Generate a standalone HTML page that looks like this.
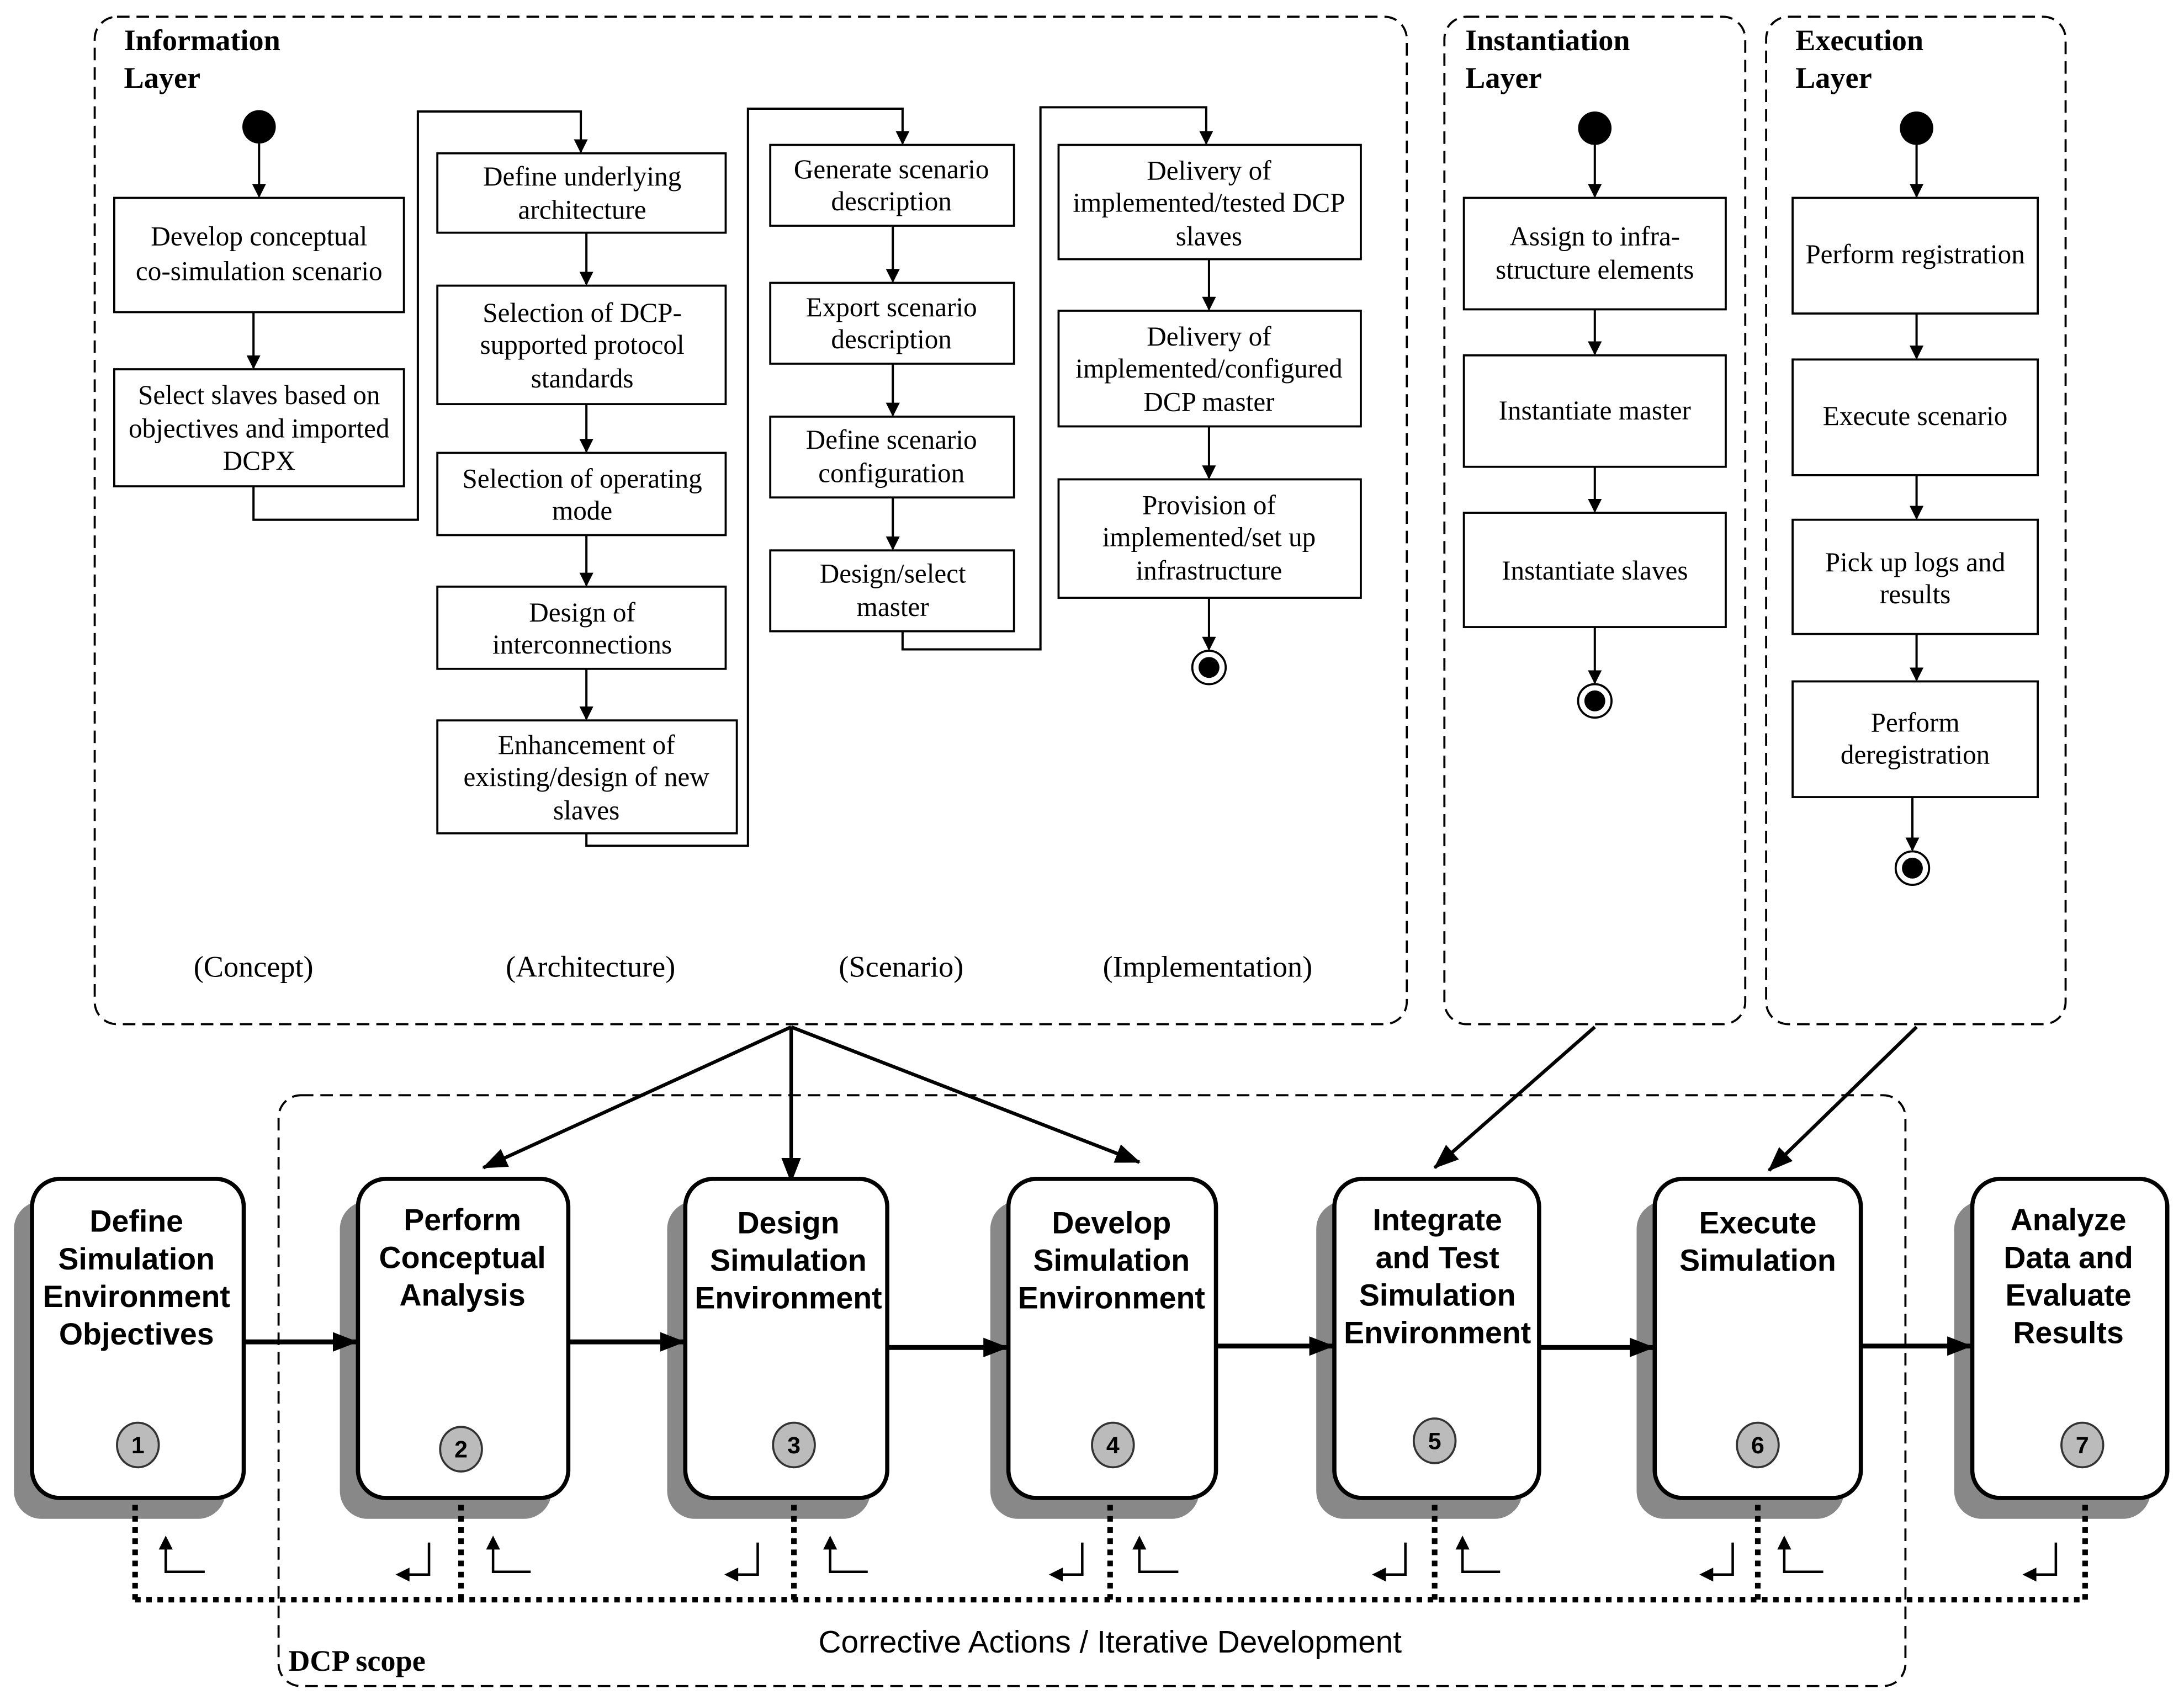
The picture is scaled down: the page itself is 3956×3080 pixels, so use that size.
<!DOCTYPE html>
<html><head><meta charset="utf-8"><style>html,body{margin:0;padding:0;background:#fff}svg{display:block}</style></head><body>
<svg width="3956" height="3080" viewBox="0 0 1568 1220" preserveAspectRatio="none" xmlns="http://www.w3.org/2000/svg">
<defs>
<marker id="a" markerWidth="10" markerHeight="10" refX="9" refY="5" orient="auto" markerUnits="userSpaceOnUse"><path d="M0,0 L10,5 L0,10 z" fill="#000"/></marker>
<marker id="b" markerWidth="18" markerHeight="14" refX="17" refY="7" orient="auto" markerUnits="userSpaceOnUse"><path d="M0,0 L18,7 L0,14 z" fill="#000"/></marker>
</defs>
<g font-family="Liberation Serif, serif" font-size="19.5" fill="#000">
<g fill="none" stroke="#000" stroke-width="1.5" stroke-dasharray="9,5">
<rect x="68" y="12" width="942" height="723" rx="16"/>
<rect x="1037" y="12" width="216" height="723" rx="16"/>
<rect x="1268" y="12" width="215" height="723" rx="16"/>
<rect x="200" y="786" width="1168" height="424" rx="16"/>
</g>
<g font-weight="bold" font-size="21.5">
<text x="89" y="36">Information</text><text x="89" y="63">Layer</text>
<text x="1052" y="36">Instantiation</text><text x="1052" y="63">Layer</text>
<text x="1289" y="36">Execution</text><text x="1289" y="63">Layer</text>
<text x="207" y="1199" font-size="21.5">DCP scope</text>
</g>
<circle cx="186" cy="91" r="12"/><circle cx="1145" cy="92" r="12"/><circle cx="1376" cy="92" r="12"/>
<g fill="none" stroke="#000" stroke-width="1.5"><circle cx="868" cy="479" r="12"/><circle cx="1145" cy="503" r="12"/><circle cx="1373" cy="623" r="12"/></g>
<circle cx="868" cy="479" r="7.5"/><circle cx="1145" cy="503" r="7.5"/><circle cx="1373" cy="623" r="7.5"/>
<g fill="#fff" stroke="#000" stroke-width="1.5">
<rect x="82" y="142" width="208" height="82"/><rect x="82" y="265" width="208" height="84"/>
<rect x="314" y="110" width="207" height="57"/><rect x="314" y="205" width="207" height="85"/><rect x="314" y="325" width="207" height="59"/><rect x="314" y="421" width="207" height="59"/><rect x="314" y="517" width="215" height="81"/>
<rect x="553" y="104" width="175" height="58"/><rect x="553" y="203" width="175" height="58"/><rect x="553" y="299" width="175" height="58"/><rect x="553" y="395" width="175" height="58"/>
<rect x="760" y="104" width="217" height="82"/><rect x="760" y="223" width="217" height="83"/><rect x="760" y="344" width="217" height="85"/>
<rect x="1051" y="142" width="188" height="80"/><rect x="1051" y="255" width="188" height="80"/><rect x="1051" y="368" width="188" height="82"/>
<rect x="1287" y="142" width="176" height="83"/><rect x="1287" y="258" width="176" height="83"/><rect x="1287" y="373" width="176" height="82"/><rect x="1287" y="489" width="176" height="83"/>
</g>
<g fill="none" stroke="#000" stroke-width="1.6" marker-end="url(#a)">
<path d="M186 103 V141"/><path d="M182 224 V264"/>
<path d="M182 349 V373 H300 V80 H417 V109"/>
<path d="M421 167 V204"/><path d="M421 290 V324"/><path d="M421 384 V420"/><path d="M421 480 V516"/>
<path d="M421 598 V607 H537 V78 H648 V103"/>
<path d="M641 162 V202"/><path d="M641 261 V298"/><path d="M641 357 V394"/>
<path d="M648 453 V466 H747 V77 H866 V103"/>
<path d="M868 186 V222"/><path d="M868 306 V343"/><path d="M868 429 V466"/>
<path d="M1145 104 V141"/><path d="M1145 222 V254"/><path d="M1145 335 V367"/><path d="M1145 450 V490"/>
<path d="M1376 104 V141"/><path d="M1376 225 V257"/><path d="M1376 341 V372"/><path d="M1376 455 V488"/><path d="M1373 572 V610"/>
</g>
<g text-anchor="middle">
<text x="186" y="176">Develop conceptual</text><text x="186" y="201">co-simulation scenario</text>
<text x="186" y="290">Select slaves based on</text><text x="186" y="314">objectives and imported</text><text x="186" y="337">DCPX</text>
<text x="418" y="133">Define underlying</text><text x="418" y="157">architecture</text>
<text x="418" y="231">Selection of DCP-</text><text x="418" y="254">supported protocol</text><text x="418" y="278">standards</text>
<text x="418" y="350">Selection of operating</text><text x="418" y="373">mode</text>
<text x="418" y="446">Design of</text><text x="418" y="469">interconnections</text>
<text x="421" y="541">Enhancement of</text><text x="421" y="564">existing/design of new</text><text x="421" y="588">slaves</text>
<text x="640" y="128">Generate scenario</text><text x="640" y="151">description</text>
<text x="640" y="227">Export scenario</text><text x="640" y="250">description</text>
<text x="640" y="322">Define scenario</text><text x="640" y="346">configuration</text>
<text x="641" y="418">Design/select</text><text x="641" y="442">master</text>
<text x="868" y="129">Delivery of</text><text x="868" y="152">implemented/tested DCP</text><text x="868" y="176">slaves</text>
<text x="868" y="248">Delivery of</text><text x="868" y="271">implemented/configured</text><text x="868" y="295">DCP master</text>
<text x="868" y="369">Provision of</text><text x="868" y="392">implemented/set up</text><text x="868" y="416">infrastructure</text>
<text x="1145" y="176">Assign to infra-</text><text x="1145" y="200">structure elements</text>
<text x="1145" y="301">Instantiate master</text>
<text x="1145" y="416">Instantiate slaves</text>
<text x="1375" y="189">Perform registration</text>
<text x="1375" y="305">Execute scenario</text>
<text x="1375" y="410">Pick up logs and</text><text x="1375" y="433">results</text>
<text x="1375" y="525">Perform</text><text x="1375" y="548">deregistration</text>
<text x="182" y="701" font-size="21.5">(Concept)</text><text x="424" y="701" font-size="21.5">(Architecture)</text><text x="647" y="701" font-size="21.5">(Scenario)</text><text x="867" y="701" font-size="21.5">(Implementation)</text>
</g>
<g fill="none" stroke="#000" stroke-width="2.5" marker-end="url(#b)">
<path d="M568 737 L347 838"/><path d="M568 737 V848"/><path d="M568 737 L818 834"/>
<path d="M1145 737 L1030 838"/><path d="M1376 737 L1270 840"/>
</g>
<g fill="#888">
<rect x="10" y="862" width="152" height="228" rx="20"/><rect x="244" y="862" width="152" height="228" rx="20"/><rect x="479" y="862" width="146" height="228" rx="20"/><rect x="711" y="862" width="150" height="228" rx="20"/><rect x="945" y="862" width="148" height="228" rx="20"/><rect x="1175" y="862" width="149" height="228" rx="20"/><rect x="1403" y="862" width="141" height="228" rx="20"/>
</g>
<g fill="#fff" stroke="#000" stroke-width="3">
<rect x="23" y="846" width="152" height="229" rx="20"/><rect x="257" y="846" width="151" height="229" rx="20"/><rect x="492" y="846" width="145" height="229" rx="20"/><rect x="724" y="846" width="149" height="229" rx="20"/><rect x="958" y="846" width="147" height="229" rx="20"/><rect x="1188" y="846" width="148" height="229" rx="20"/><rect x="1416" y="846" width="140" height="229" rx="20"/>
</g>
<g fill="#bbb" stroke="#333" stroke-width="1.5">
<ellipse cx="99" cy="1037" rx="15" ry="16"/><ellipse cx="331" cy="1040" rx="15" ry="16"/><ellipse cx="570" cy="1037" rx="15" ry="16"/><ellipse cx="799" cy="1037" rx="15" ry="16"/><ellipse cx="1030" cy="1034" rx="15" ry="16"/><ellipse cx="1262" cy="1037" rx="15" ry="16"/><ellipse cx="1495" cy="1037" rx="15" ry="16"/>
</g>
<g font-family="Liberation Sans, Arial, sans-serif" font-weight="bold" font-size="17" text-anchor="middle">
<text x="99" y="1043">1</text><text x="331" y="1046">2</text><text x="570" y="1043">3</text><text x="799" y="1043">4</text><text x="1030" y="1040">5</text><text x="1262" y="1043">6</text><text x="1495" y="1043">7</text>
</g>
<g font-family="Liberation Sans, Arial, sans-serif" font-weight="bold" font-size="22" text-anchor="middle">
<text x="98" y="884">Define</text><text x="98" y="911">Simulation</text><text x="98" y="938">Environment</text><text x="98" y="965">Objectives</text>
<text x="332" y="883">Perform</text><text x="332" y="910">Conceptual</text><text x="332" y="937">Analysis</text>
<text x="566" y="885">Design</text><text x="566" y="912">Simulation</text><text x="566" y="939">Environment</text>
<text x="798" y="885">Develop</text><text x="798" y="912">Simulation</text><text x="798" y="939">Environment</text>
<text x="1032" y="883">Integrate</text><text x="1032" y="910">and Test</text><text x="1032" y="937">Simulation</text><text x="1032" y="964">Environment</text>
<text x="1262" y="885">Execute</text><text x="1262" y="912">Simulation</text>
<text x="1485" y="883">Analyze</text><text x="1485" y="910">Data and</text><text x="1485" y="937">Evaluate</text><text x="1485" y="964">Results</text>
</g>
<g fill="none" stroke="#000" stroke-width="3.5" marker-end="url(#b)">
<path d="M175 963 H256"/><path d="M408 963 H491"/><path d="M637 967 H723"/><path d="M873 966 H957"/><path d="M1105 967 H1187"/><path d="M1336 966 H1415"/>
</g>
<g fill="none" stroke="#000" stroke-width="4" stroke-dasharray="4,4">
<path d="M97 1148 H1497"/>
<path d="M97 1080 V1148"/><path d="M331 1080 V1148"/><path d="M570 1080 V1148"/><path d="M797 1080 V1148"/><path d="M1030 1080 V1148"/><path d="M1262 1080 V1148"/><path d="M1497 1080 V1148"/>
</g>
<g fill="none" stroke="#000" stroke-width="1.8">
<path d="M119 1110 V1128 H147"/><path d="M354 1110 V1128 H381"/><path d="M596 1110 V1128 H623"/><path d="M818 1110 V1128 H846"/><path d="M1050 1110 V1128 H1077"/><path d="M1281 1110 V1128 H1309"/>
<path d="M308 1107 V1130 H292"/><path d="M544 1107 V1130 H528"/><path d="M777 1107 V1130 H761"/><path d="M1009 1107 V1130 H993"/><path d="M1244 1107 V1130 H1228"/><path d="M1476 1107 V1130 H1460"/>
</g>
<g fill="#000">
<path d="M119 1102 l-5 10 h10z"/><path d="M354 1102 l-5 10 h10z"/><path d="M596 1102 l-5 10 h10z"/><path d="M818 1102 l-5 10 h10z"/><path d="M1050 1102 l-5 10 h10z"/><path d="M1281 1102 l-5 10 h10z"/>
<path d="M284 1130 l10 -5 v10z"/><path d="M520 1130 l10 -5 v10z"/><path d="M753 1130 l10 -5 v10z"/><path d="M985 1130 l10 -5 v10z"/><path d="M1220 1130 l10 -5 v10z"/><path d="M1452 1130 l10 -5 v10z"/>
</g>
<text x="797" y="1186" font-family="Liberation Sans, Arial, sans-serif" font-size="22.5" text-anchor="middle">Corrective Actions / Iterative  Development</text>
</g>
</svg>
</body></html>
